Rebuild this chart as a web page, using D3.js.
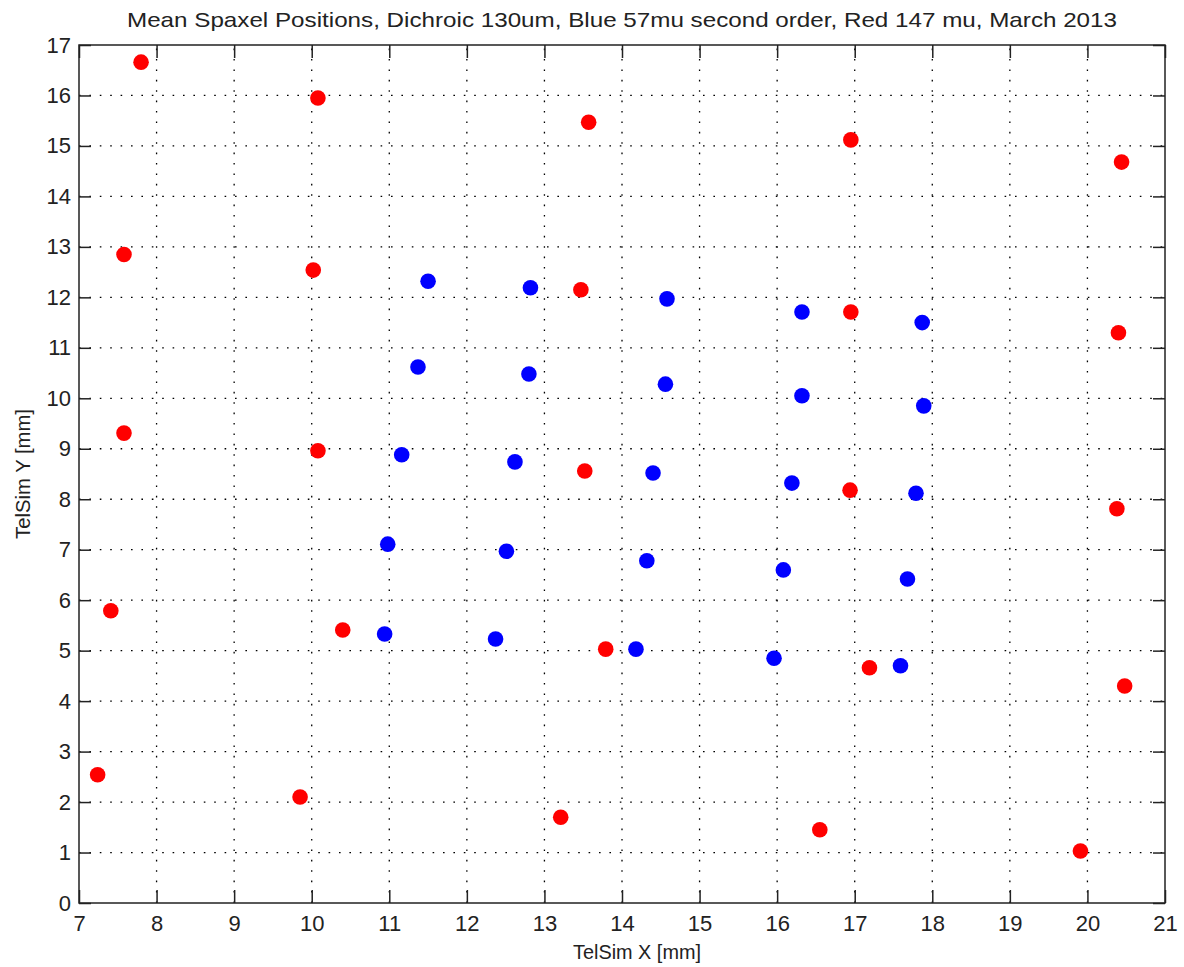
<!DOCTYPE html>
<html>
<head>
<meta charset="utf-8">
<script src="https://cdn.jsdelivr.net/npm/d3@7"></script>
<style>
  html, body { margin: 0; padding: 0; background: #fff; }
  svg { display: block; }
  text { font-family: "Liberation Sans", Arial, sans-serif; fill: #222; }
</style>
</head>
<body>
<svg id="chart" width="1184" height="967"></svg>
<script>
const title = "Mean Spaxel Positions, Dichroic 130um, Blue 57mu second order, Red 147 mu, March 2013";
const xLabel = "TelSim X [mm]";
const yLabel = "TelSim Y [mm]";
const xTicks = [7, 8, 9, 10, 11, 12, 13, 14, 15, 16, 17, 18, 19, 20, 21];
const yTicks = [0, 1, 2, 3, 4, 5, 6, 7, 8, 9, 10, 11, 12, 13, 14, 15, 16, 17];

const redX = [7.80, 10.08, 13.57, 16.95, 20.44,
              7.58, 10.02, 13.47, 16.95, 20.40,
              7.58, 10.08, 13.52, 16.94, 20.38,
              7.41, 10.40, 13.79, 17.19, 20.48,
              7.24,  9.85, 13.21, 16.55, 19.91];
const redY = [16.66, 15.95, 15.47, 15.12, 14.68,
              12.85, 12.54, 12.15, 11.71, 11.30,
               9.31,  8.96,  8.56,  8.18,  7.81,
               5.79,  5.41,  5.03,  4.66,  4.30,
               2.54,  2.10,  1.70,  1.45,  1.03];
const blueX = [11.50, 12.82, 14.58, 16.32, 17.87,
               11.37, 12.80, 14.56, 16.32, 17.89,
               11.16, 12.62, 14.40, 16.19, 17.79,
               10.98, 12.51, 14.32, 16.08, 17.68,
               10.94, 12.37, 14.18, 15.96, 17.59];
const blueY = [12.32, 12.19, 11.97, 11.71, 11.50,
               10.62, 10.48, 10.28, 10.05,  9.85,
                8.88,  8.74,  8.52,  8.32,  8.12,
                7.11,  6.97,  6.78,  6.60,  6.42,
                5.33,  5.23,  5.03,  4.85,  4.70];

const svg = d3.select("#chart");
const L = 79, R = 1165, T = 45, B = 903;

const x = d3.scaleLinear().domain([7, 21]).range([L, R]);
const y = d3.scaleLinear().domain([0, 17]).range([B, T]);

// grid
const grid = svg.append("g").attr("stroke", "#000").attr("stroke-width", 1.3)
  .attr("stroke-dasharray", "1.6,8.8").attr("fill", "none");
grid.selectAll("line.gx").data(xTicks.slice(1, -1)).join("line")
  .attr("x1", d => x(d)).attr("x2", d => x(d)).attr("y1", B).attr("y2", T);
grid.selectAll("line.gy").data(yTicks.slice(1, -1)).join("line")
  .attr("y1", d => y(d)).attr("y2", d => y(d)).attr("x1", L).attr("x2", R);

// axes
const fs = "22px";
const axB = svg.append("g").attr("transform", `translate(0,${B})`)
  .call(d3.axisBottom(x).tickValues(xTicks).tickFormat(d3.format("d")).tickSize(-13).tickPadding(12));
const axT = svg.append("g").attr("transform", `translate(0,${T})`)
  .call(d3.axisTop(x).tickValues(xTicks).tickFormat("").tickSize(-13));
const axL = svg.append("g").attr("transform", `translate(${L},0)`)
  .call(d3.axisLeft(y).tickValues(yTicks).tickFormat(d3.format("d")).tickSize(-12).tickPadding(8));
const axR = svg.append("g").attr("transform", `translate(${R},0)`)
  .call(d3.axisRight(y).tickValues(yTicks).tickFormat("").tickSize(-12));
[axB, axT, axL, axR].forEach(a => {
  a.select(".domain").remove();
  a.selectAll("line").attr("stroke", "#222").attr("stroke-width", 1.5);
  a.selectAll("text").attr("font-size", fs).attr("fill", "#222")
   .attr("font-family", "'Liberation Sans', Arial, sans-serif");
});

svg.append("rect").attr("x", L).attr("y", T).attr("width", R - L).attr("height", B - T)
  .attr("fill", "none").attr("stroke", "#222").attr("stroke-width", 1.5);

// points
const redPts = redX.map((v, i) => ({x: v, y: redY[i]}));
const bluePts = blueX.map((v, i) => ({x: v, y: blueY[i]}));
svg.append("g").selectAll("circle").data(redPts).join("circle")
  .attr("cx", d => x(d.x)).attr("cy", d => y(d.y)).attr("r", 7.8).attr("fill", "#ff0000");
svg.append("g").selectAll("circle").data(bluePts).join("circle")
  .attr("cx", d => x(d.x)).attr("cy", d => y(d.y)).attr("r", 7.8).attr("fill", "#0000ff");

// labels
svg.append("text").attr("x", 622).attr("y", 27).attr("text-anchor", "middle")
  .attr("font-size", "21px").attr("textLength", 990).attr("lengthAdjust", "spacingAndGlyphs")
  .text(title);
svg.append("text").attr("x", 637).attr("y", 959).attr("text-anchor", "middle")
  .attr("font-size", "21px").attr("textLength", 128).attr("lengthAdjust", "spacingAndGlyphs")
  .text(xLabel);
svg.append("text").attr("transform", `translate(30,${(T + B) / 2}) rotate(-90)`)
  .attr("text-anchor", "middle").attr("font-size", "21px").attr("textLength", 130)
  .attr("lengthAdjust", "spacingAndGlyphs").text(yLabel);
</script>
</body>
</html>
